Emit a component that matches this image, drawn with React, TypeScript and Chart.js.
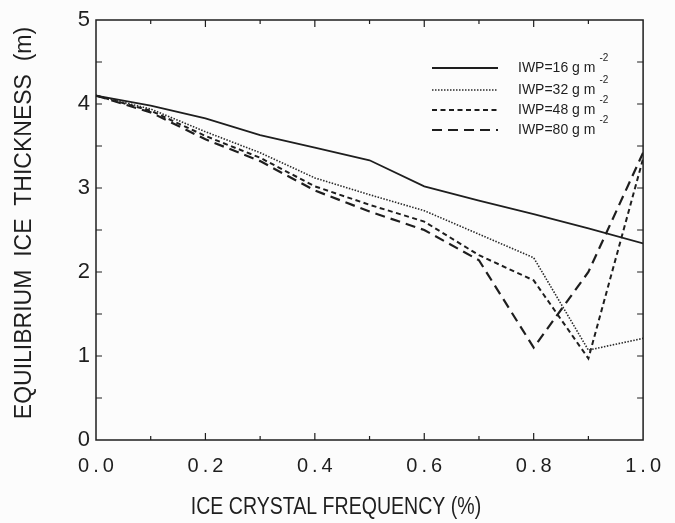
import React, { useEffect, useRef } from "react";
import { Chart, registerables } from "chart.js";

Chart.register(...registerables);

const frequency = [0, 0.1, 0.2, 0.3, 0.4, 0.5, 0.6, 0.7, 0.8, 0.9, 1.0];
const thicknessIwp16 = [4.1, 3.98, 3.83, 3.63, 3.48, 3.33, 3.02, 2.85, 2.69, 2.52, 2.34];
const thicknessIwp32 = [4.1, 3.94, 3.67, 3.42, 3.12, 2.92, 2.73, 2.45, 2.17, 1.07, 1.21];
const thicknessIwp48 = [4.1, 3.92, 3.62, 3.36, 3.02, 2.8, 2.6, 2.2, 1.9, 0.97, 3.35];
const thicknessIwp80 = [4.1, 3.9, 3.58, 3.32, 2.97, 2.72, 2.5, 2.14, 1.1, 2.0, 3.42];
const seriesLabels = ["IWP=16 g m", "IWP=32 g m", "IWP=48 g m", "IWP=80 g m"];
const unitExponent = "-2";
const xTitle = "ICE CRYSTAL FREQUENCY (%)";
const yTitle = "EQUILIBRIUM\u00A0\u00A0ICE\u00A0\u00A0THICKNESS\u00A0\u00A0(m)";

const INK = "#1e1e1e";
const SANS = "'Liberation Sans', Arial, Helvetica, sans-serif";

const framePlugin = {
  id: "frameTicks",
  afterDraw(chart: any) {
    const { ctx, chartArea } = chart;
    const xs = chart.scales.x;
    const ys = chart.scales.y;
    const { left, right, top, bottom } = chartArea;
    ctx.save();
    ctx.strokeStyle = INK;
    ctx.lineWidth = 1.5;
    ctx.setLineDash([]);
    ctx.strokeRect(left, top, right - left, bottom - top);
    ctx.lineWidth = 1.2;
    ctx.beginPath();
    for (let i = 1; i < 10; i++) {
      const px = xs.getPixelForValue(i / 10);
      const len = i % 2 === 0 ? 7 : 4;
      ctx.moveTo(px, bottom);
      ctx.lineTo(px, bottom - len);
      ctx.moveTo(px, top);
      ctx.lineTo(px, top + len);
    }
    for (let i = 1; i < 10; i++) {
      const py = ys.getPixelForValue(i / 2);
      const len = 6;
      ctx.moveTo(left, py);
      ctx.lineTo(left + len, py);
      ctx.moveTo(right, py);
      ctx.lineTo(right - len, py);
    }
    ctx.stroke();
    ctx.restore();
  },
};

const titlesPlugin = {
  id: "axisTitles",
  afterDraw(chart: any) {
    const { ctx, chartArea } = chart;
    ctx.save();
    ctx.fillStyle = INK;
    ctx.font = `23px ${SANS}`;
    ctx.textAlign = "center";
    ctx.textBaseline = "middle";
    ctx.save();
    ctx.translate(chartArea.left + 240, chartArea.bottom + 68);
    ctx.scale(0.85, 1);
    ctx.fillText(xTitle, 0, 0);
    ctx.restore();
    ctx.save();
    ctx.translate(chartArea.left - 71, chartArea.top + 203);
    ctx.rotate(-Math.PI / 2);
    ctx.fillText(yTitle, 0, 0);
    ctx.restore();
    ctx.restore();
  },
};

const legendPlugin = {
  id: "iwpLegend",
  afterDraw(chart: any) {
    const { ctx, chartArea } = chart;
    const x0 = chartArea.left + 336;
    const rowOffsets = [48, 70, 90, 110];
    chart.data.datasets.forEach((ds: any, i: number) => {
      const y = chartArea.top + rowOffsets[i];
      ctx.save();
      ctx.strokeStyle = ds.borderColor;
      ctx.lineWidth = ds.borderWidth;
      ctx.setLineDash(ds.borderDash || []);
      ctx.beginPath();
      ctx.moveTo(x0, y);
      ctx.lineTo(x0 + 66, y);
      ctx.stroke();
      ctx.setLineDash([]);
      ctx.fillStyle = INK;
      ctx.textBaseline = "middle";
      ctx.textAlign = "left";
      ctx.font = `14px ${SANS}`;
      ctx.fillText(ds.label, x0 + 86, y);
      const w = ctx.measureText(ds.label).width;
      ctx.font = `10px ${SANS}`;
      ctx.fillText(unitExponent, x0 + 86 + w + 4, y - 10);
      ctx.restore();
    });
  },
};

const bgPlugin = {
  id: "pageBg",
  beforeDraw(chart: any) {
    const { ctx, width, height } = chart;
    ctx.save();
    ctx.fillStyle = "#fcfcfc";
    ctx.fillRect(0, 0, width, height);
    ctx.restore();
  },
};

export default function App() {
  const canvasRef = useRef<HTMLCanvasElement | null>(null);

  useEffect(() => {
    document.body.style.margin = "0";
    const canvas = canvasRef.current;
    if (!canvas) return;
    const toPoints = (vals: number[]) => frequency.map((f, i) => ({ x: f, y: vals[i] }));
    const chart = new Chart(canvas, {
      type: "line",
      data: {
        datasets: [
          { label: seriesLabels[0], data: toPoints(thicknessIwp16), borderColor: INK, borderWidth: 1.8, borderDash: [], pointRadius: 0, tension: 0, fill: false },
          { label: seriesLabels[1], data: toPoints(thicknessIwp32), borderColor: "#2a2a2a", borderWidth: 1.6, borderDash: [1.5, 1.5], pointRadius: 0, tension: 0, fill: false },
          { label: seriesLabels[2], data: toPoints(thicknessIwp48), borderColor: INK, borderWidth: 2, borderDash: [5, 3.5], pointRadius: 0, tension: 0, fill: false },
          { label: seriesLabels[3], data: toPoints(thicknessIwp80), borderColor: INK, borderWidth: 2.2, borderDash: [10, 6], pointRadius: 0, tension: 0, fill: false },
        ],
      },
      options: {
        animation: false,
        responsive: false,
        devicePixelRatio: 1,
        layout: { padding: { top: 20, right: 29, left: 0, bottom: 0 } },
        plugins: { legend: { display: false }, tooltip: { enabled: false } },
        scales: {
          x: {
            type: "linear",
            min: 0,
            max: 1,
            grid: { display: false, drawTicks: false },
            border: { display: false },
            ticks: {
              stepSize: 0.2,
              color: INK,
              padding: 14,
              maxRotation: 0,
              font: { family: SANS, size: 20 },
              callback: (v: any) => Number(v).toFixed(1).split("").join("\u2009"),
            },
            title: { display: false, text: xTitle },
            afterFit: (scale: any) => {
              scale.height = 83;
            },
          },
          y: {
            type: "linear",
            min: 0,
            max: 5,
            grid: { display: false, drawTicks: false },
            border: { display: false },
            ticks: {
              stepSize: 1,
              color: INK,
              padding: 6,
              font: { family: SANS, size: 22 },
            },
            title: { display: false, text: yTitle },
            afterFit: (scale: any) => {
              scale.width = 96;
            },
          },
        },
      },
      plugins: [bgPlugin, framePlugin, titlesPlugin, legendPlugin],
    } as any);
    return () => chart.destroy();
  }, []);

  return (
    <div style={{ width: 675, height: 523 }}>
      <canvas ref={canvasRef} width={675} height={523} />
    </div>
  );
}
